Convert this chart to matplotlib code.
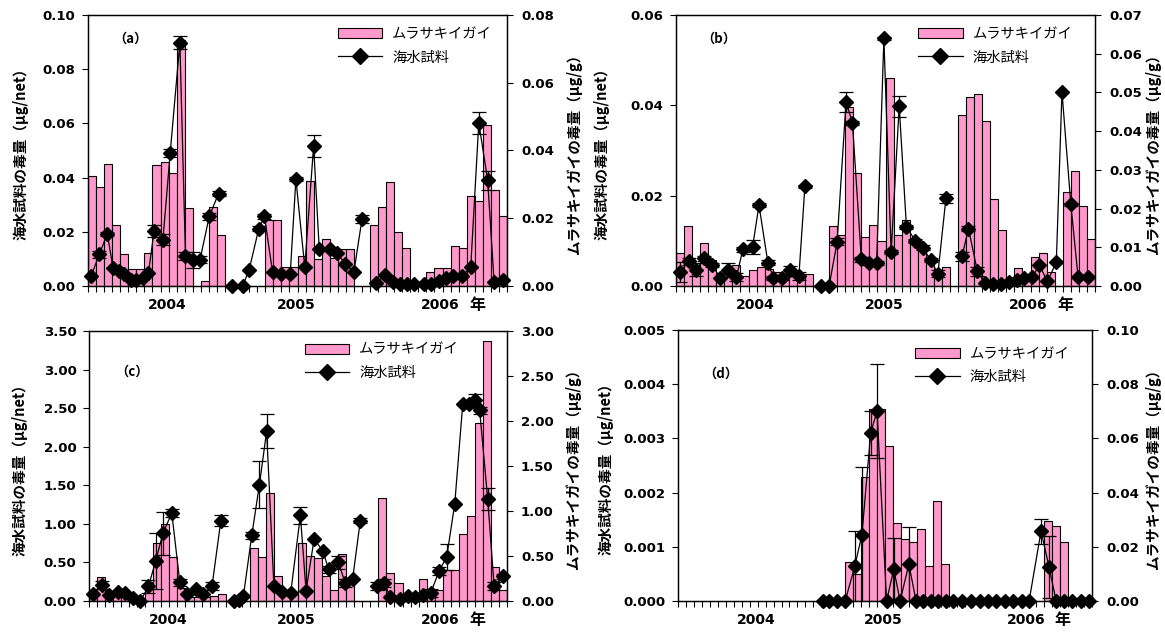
import numpy as np
import matplotlib
matplotlib.use('Agg')
import matplotlib.pyplot as plt
from matplotlib.patches import Patch
from matplotlib.lines import Line2D
from matplotlib.ticker import FormatStrFormatter
import matplotlib.transforms as mtransforms

plt.rcParams['font.family'] = ['Noto Sans CJK JP', 'DejaVu Sans']

nan = np.nan
N_SLOTS = 52
years = ['2004', '2005', '2006']
year_pos = [9.8, 25.8, 43.7]
nen_pos = 48.3

legend_bar = 'ムラサキイガイ'
legend_line = '海水試料'
ylabel_left = '海水試料の毒量（μg/net）'
ylabel_right = 'ムラサキイガイの毒量（μg/g）'

# ---------------- panel (a) ----------------
bars_a = [0.0325, 0.0293, 0.0361, 0.0179, 0.0094, 0.0051, 0.0051, 0.0096, 0.0357, 0.0365,
          0.0334, 0.0726, 0.0230, nan, 0.0014, 0.0232, 0.0152, nan, nan, nan,
          nan, nan, 0.0196, 0.0196, 0.0055, 0.0055, 0.0088, 0.0310, 0.0080, 0.0140,
          0.0084, 0.0109, 0.0109, nan, nan, 0.0180, 0.0234, 0.0306, 0.0160, 0.0113,
          nan, nan, 0.0042, 0.0052, 0.0052, 0.0118, 0.0113, 0.0266, 0.0250, 0.0476,
          0.0282, 0.0207]
pts_x_a = [0.4, 1.4, 2.4, 3.1, 3.8, 4.5, 5.3, 6.0, 6.8, 7.5, 8.2, 9.3, 10.2, 11.4, 12.1, 13.0, 13.9, 15.05, 16.2, nan,
           17.9, 19.2, 20.0, 21.2, 21.9, 22.9, 23.9, 25.1, 25.8, 26.9, 28.0, 28.7, 30.0, 30.9, 31.9, 33.0, 34.0, nan,
           35.8, 36.8, 37.8, 38.7, 39.6, 40.5, 41.7, 42.6, 43.5, 44.4, 45.3, 46.4, 47.5, 48.5, 49.6, 50.4, 51.5]
pts_y_a = [0.0037, 0.0117, 0.0193, 0.0066, 0.0055, 0.0043, 0.0021, 0.0021, 0.0031, 0.0048, 0.0203, 0.0171, 0.0491,
           0.0898, 0.0110, 0.0097, 0.0097, 0.0257, 0.0341, nan,
           0, 0, 0.006, 0.0212, 0.0257, 0.0052, 0.0043, 0.0046, 0.0394, 0.0070, 0.0517, 0.0135, 0.0138, 0.0122,
           0.0083, 0.0052, 0.0246, nan,
           0.0011, 0.0039, 0.0015, 0.0006, 0.0006, 0.0006, 0.0009, 0.0006, 0.0018, 0.0031, 0.0036, 0.0036, 0.0070,
           0.0602, 0.0390, 0.0015, 0.0021]
err_a = [0, 0.0012, 0.0008, 0, 0, 0, 0, 0, 0, 0, 0.0022, 0.002, 0.0015, 0.0025, 0.0015, 0.003, 0.0012, 0.0012, 0.0008, nan,
         0, 0, 0, 0.0008, 0.0008, 0, 0, 0, 0.0008, 0, 0.0042, 0, 0, 0, 0, 0, 0.0015, nan,
         0, 0, 0, 0, 0, 0, 0, 0, 0, 0, 0, 0, 0, 0.004, 0.0035, 0, 0]

# ---------------- panel (b) ----------------
bars_b = [0.0085, 0.0156, 0.0050, 0.0110, 0.0067, 0.0032, 0.0024, 0.0054, 0.0026, 0.0041,
          0.0048, 0.0045, 0.0037, 0.0028, 0.0026, 0.0032, 0.0031, nan, nan, 0.0154,
          0.0131, 0.0463, 0.0292, 0.0127, 0.0157, 0.0116, 0.0538, 0.0133, 0.0170, 0.0120,
          0.0094, 0.0068, 0.0024, 0.0049, nan, 0.0441, 0.0489, 0.0497, 0.0427, 0.0226,
          0.0144, nan, 0.0047, 0.0015, 0.0075, 0.0084, 0.0036, nan, 0.0243, 0.0297,
          0.0206, 0.0122]
pts_x_b = [0.55, 1.56, 2.5, 3.5, 4.5, 5.5, 6.4, 7.5, 8.3, 9.5, 10.3, 11.4, 12.1, 13.2, 14.2, 15.25, 16.0, nan,
           18.0, 19.0, 20.0, 21.1, 21.9, 23.0, 24.0, 24.9, 25.8, 26.7, 27.7, 28.6, 29.7, 30.6, 31.6, 32.5, 33.5, nan,
           35.5, 36.3, 37.4, 38.3, 39.4, 40.3, 41.3, 42.3, 43.2, 44.2, 45.1, 46.1, 47.2, 47.9, 49.0, 49.9, 51.1]
pts_y_b = [0.0031, 0.0055, 0.0036, 0.0061, 0.0046, 0.0018, 0.0036, 0.0020, 0.0081, 0.0086, 0.0179, 0.0052, 0.0018,
           0.0018, 0.0035, 0.0022, 0.0221, nan,
           0, 0, 0.0098, 0.0408, 0.0361, 0.0059, 0.0051, 0.0051, 0.0548, 0.0075, 0.0398, 0.0131, 0.0100, 0.0085,
           0.0058, 0.0027, 0.0194, nan,
           0.0066, 0.0127, 0.0033, 0.0007, 0.0005, 0.0004, 0.0009, 0.0014, 0.0018, 0.0020, 0.0046, 0.0010, 0.0053,
           0.0430, 0.0181, 0.0020, 0.0020]
err_b = [0.0022, 0.0008, 0.0014, 0.0005, 0.0005, 0, 0.0015, 0.0008, 0.0005, 0.0015, 0.0005, 0.0005, 0.0005, 0.0005,
         0.0009, 0.0008, 0.0003, nan,
         0, 0, 0.0008, 0.0022, 0.0005, 0.0005, 0.0005, 0.0005, 0.0003, 0.0005, 0.0023, 0.0005, 0.0005, 0.0005,
         0.0005, 0.0008, 0.0010, nan,
         0.0010, 0.0005, 0.0010, 0, 0, 0, 0, 0, 0, 0, 0, 0, 0, 0, 0.0003, 0, 0]

# ---------------- panel (c) ----------------
bars_c = [0.07, 0.27, 0.09, 0.09, 0.09, 0.07, 0.03, 0.21, 0.64, 0.86,
          0.49, 0.15, 0.05, 0.05, 0.05, 0.06, 0.08, nan, nan, nan,
          0.59, 0.49, 1.20, 0.28, 0.08, 0.08, 0.65, 0.50, 0.48, 0.28,
          0.12, 0.52, 0.20, nan, nan, nan, 1.14, 0.31, 0.20, 0.05,
          0.05, 0.24, 0.06, 0.12, 0.34, 0.34, 0.75, 0.94, 1.98, 2.89,
          0.38, 0.12]
pts_x_c = [0.46, 1.6, 2.5, 3.6, 4.5, 5.5, 6.4, 7.4, 8.3, 9.2, 10.3, 11.3, 12.25, 13.3, 14.2, 15.3, 16.4, nan,
           18.0, 18.6, 19.2, 20.25, 21.2, 22.1, 23.0, 24.0, 25.1, 26.3, 27.0, 28.0, 29.1, 29.8, 31.0, 31.9, 32.8,
           33.75, nan,
           35.8, 36.75, 37.5, 38.7, 39.7, 40.6, 41.5, 42.5, 43.55, 44.5, 45.5, 46.5, 47.3, 48.0, 48.6, 49.6, 50.4,
           51.5]
pts_y_c = [0.09, 0.21, 0.08, 0.12, 0.10, 0.035, 0.0, 0.19, 0.52, 0.88, 1.14, 0.24, 0.09, 0.15, 0.09, 0.19, 1.04, nan,
           0.0, 0.01, 0.06, 0.85, 1.51, 2.20, 0.19, 0.12, 0.11, 1.11, 0.13, 0.80, 0.65, 0.41, 0.50, 0.23, 0.29, 1.04,
           nan,
           0.19, 0.23, 0.05, 0.02, 0.065, 0.056, 0.078, 0.10, 0.39, 0.57, 1.26, 2.56, 2.55, 2.60, 2.47, 1.32, 0.19,
           0.32]
err_c = [0, 0.05, 0, 0, 0, 0, 0, 0.08, 0.36, 0.28, 0.05, 0.05, 0, 0, 0, 0.05, 0.07, nan,
         0, 0, 0, 0.05, 0.30, 0.22, 0, 0, 0, 0.11, 0, 0, 0, 0.05, 0.08, 0.05, 0, 0.03, nan,
         0.05, 0.05, 0, 0, 0, 0, 0, 0.05, 0.05, 0.17, 0, 0, 0.05, 0.08, 0.05, 0.14, 0.05, 0.03]

# ---------------- panel (d) ----------------
bars_d = [nan] * 21 + [0.0144, 0.0098, 0.0457, 0.0708, 0.0708, 0.0571, 0.0287, 0.0227, 0.0218,
                       0.0266, 0.0130, 0.0369, 0.0136] + [nan] * 12 + [0.0296, 0.0276, 0.0216] + [nan] * 3
pts_x_d = [18.2, 19.0, 20.0, 21.0, 22.2, 23.1, 24.2, 25.0, 26.2, 27.1, 27.9, 29.0, 29.9, 30.8, 31.8, 32.7, 33.6,
           34.6, 35.7, 36.8, 37.9, 38.9, 40.0, 41.1, 42.1, 43.2, 44.1, 45.6, 46.6, 47.5, 48.5, 49.5, 50.6, 51.6]
pts_y_d = [0, 0, 0, 0, 0.00064, 0.00122, 0.0031, 0.0035, 0, 0.00059, 0, 0.00068, 0, 0, 0, 0, 0,
           0, 0, 0, 0, 0, 0, 0, 0, 0, 0, 0.00129, 0.00063, 0, 0, 0, 0, 0]
err_d = [0, 0, 0, 0, 0.00065, 0.00125, 0.0004, 0.00087, 0, 0.00058, 0, 0.00068, 0, 0, 0, 0, 0,
         0, 0, 0, 0, 0, 0, 0, 0, 0, 0, 0.00023, 0.00057, 0, 0, 0, 0, 0]

panels = [
    dict(tag='（a）', bars=bars_a, px=pts_x_a, py=pts_y_a, err=err_a,
         lmax=0.10, lstep=0.02, lfmt='%.2f', rmax=0.08, rstep=0.02, rfmt='%.2f',
         box=(88, 507, 15, 286), leg=(0.596, 0.955), tagpos=(0.06, 0.914),
         lab_l=-0.143, lab_r=1.141),
    dict(tag='（b）', bars=bars_b, px=pts_x_b, py=pts_y_b, err=err_b,
         lmax=0.06, lstep=0.02, lfmt='%.2f', rmax=0.07, rstep=0.01, rfmt='%.2f',
         box=(676, 1095, 15, 286), leg=(0.578, 0.955), tagpos=(0.06, 0.914),
         lab_l=-0.158, lab_r=1.12),
    dict(tag='（c）', bars=bars_c, px=pts_x_c, py=pts_y_c, err=err_c,
         lmax=3.50, lstep=0.50, lfmt='%.2f', rmax=3.00, rstep=0.50, rfmt='%.2f',
         box=(89, 507, 331, 601), leg=(0.516, 0.957), tagpos=(0.063, 0.848),
         lab_l=-0.146, lab_r=1.138),
    dict(tag='（d）', bars=bars_d, px=pts_x_d, py=pts_y_d, err=err_d,
         lmax=0.005, lstep=0.001, lfmt='%.3f', rmax=0.10, rstep=0.02, rfmt='%.2f',
         box=(678, 1092, 330, 601), leg=(0.573, 0.937), tagpos=(0.062, 0.84),
         lab_l=-0.155, lab_r=1.128),
]

W, H = 1165, 632
fig = plt.figure(figsize=(W / 100, H / 100), dpi=100)
PINK = '#FF99CC'
NUMFAM = ['DejaVu Sans']

for p in panels:
    l, r, t, b = p['box']
    ax = fig.add_axes([l / W, 1 - b / H, (r - l) / W, (b - t) / H])
    ax2 = ax.twinx()
    x = np.arange(N_SLOTS)
    h = np.array(p['bars'], dtype=float)
    m = ~np.isnan(h)
    ax2.bar(x[m], h[m], width=1.0, align='edge', color=PINK, edgecolor='black', linewidth=0.8)
    ax.set_zorder(ax2.get_zorder() + 1)
    ax.patch.set_visible(False)

    px = np.array(p['px'], dtype=float)
    py = np.array(p['py'], dtype=float)
    e = np.array(p['err'], dtype=float)
    ax.plot(px, py, color='black', lw=0.9, marker='D', ms=7, mfc='black', mec='black', clip_on=False)
    me = ~np.isnan(e) & (e > 0)
    ax.errorbar(px[me], py[me], yerr=e[me], fmt='none', ecolor='black', elinewidth=0.9,
                capsize=5, capthick=0.9)

    ax.set_xlim(0, N_SLOTS)
    ax.set_ylim(0, p['lmax'])
    ax2.set_ylim(0, p['rmax'])
    ax.set_xticks(np.arange(0, N_SLOTS + 1))
    ax.tick_params(axis='x', direction='out', length=4, width=0.8, labelbottom=False)
    ax.set_yticks(np.arange(0, p['lmax'] + p['lstep'] / 2, p['lstep']))
    ax2.set_yticks(np.arange(0, p['rmax'] + p['rstep'] / 2, p['rstep']))
    ax.yaxis.set_major_formatter(FormatStrFormatter(p['lfmt']))
    ax2.yaxis.set_major_formatter(FormatStrFormatter(p['rfmt']))
    ax.tick_params(axis='y', direction='out', length=4, width=0.8, pad=5)
    ax2.tick_params(axis='y', direction='out', length=4, width=0.8, pad=6)
    for lab in ax.get_yticklabels() + ax2.get_yticklabels():
        lab.set_fontfamily(NUMFAM)
        lab.set_fontweight('bold')
        lab.set_fontsize(9.5)
    for sp in list(ax.spines.values()) + list(ax2.spines.values()):
        sp.set_linewidth(0.9)

    ax.set_ylabel(ylabel_left, fontsize=10.5, fontweight='bold')
    ax2.set_ylabel(ylabel_right, fontsize=10.5, fontweight='bold')
    ax.yaxis.set_label_coords(p['lab_l'], 0.5)
    ax2.yaxis.set_label_coords(p['lab_r'], 0.5)

    trans = mtransforms.blended_transform_factory(ax.transData, ax.transAxes)
    for yr, pos in zip(years, year_pos):
        ax.text(pos, -0.07, yr, transform=trans, ha='center', va='center',
                fontfamily=NUMFAM, fontweight='bold', fontsize=10)
    ax.text(nen_pos, -0.07, '年', transform=trans, ha='center', va='center',
            fontweight='bold', fontsize=11.5)

    ax.text(p['tagpos'][0], p['tagpos'][1], p['tag'], transform=ax.transAxes,
            ha='left', va='center', fontsize=9.5, fontweight='bold')

    handles = [Patch(facecolor=PINK, edgecolor='black', linewidth=0.8, label=legend_bar),
               Line2D([], [], color='black', lw=0.9, marker='D', ms=8, label=legend_line)]
    ax.legend(handles=handles, loc='upper left', bbox_to_anchor=p['leg'], frameon=False,
              prop=dict(size=10.3), handlelength=3.1, handleheight=0.7, handletextpad=0.7,
              labelspacing=0.65, borderaxespad=0, borderpad=0)

fig.savefig('out.png', dpi=100)
